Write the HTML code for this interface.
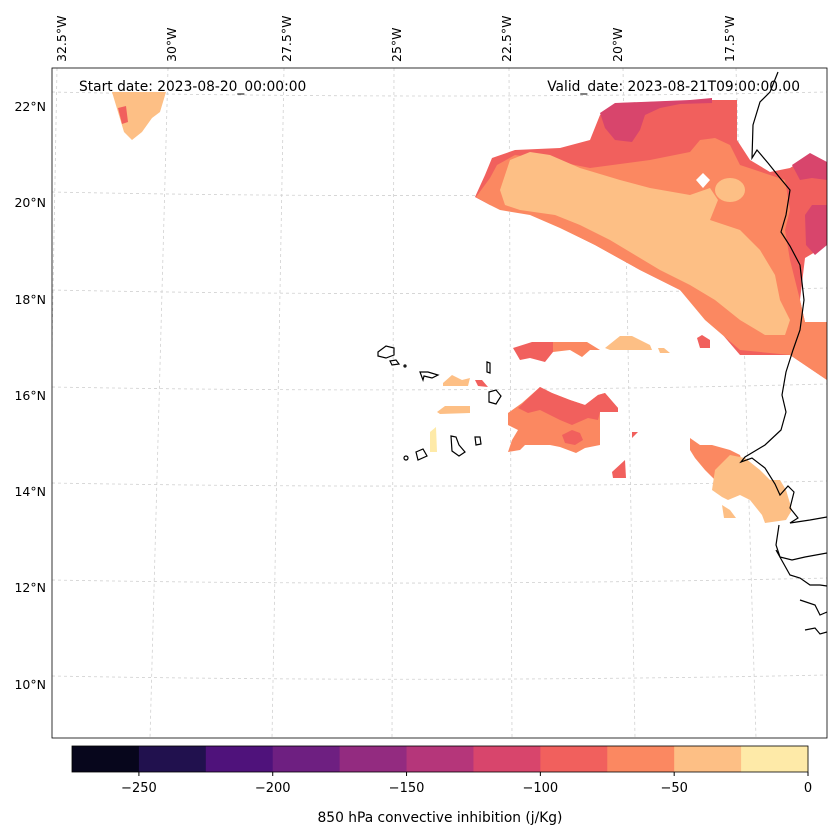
<!DOCTYPE html>
<html><head><meta charset="utf-8">
<style>
html,body{margin:0;padding:0;background:#fff;}
svg{display:block;font-family:"DejaVu Sans","Liberation Sans",sans-serif;}
</style></head>
<body>
<svg id="chart" width="837" height="836" viewBox="0 0 837 836">
<defs><clipPath id="mapclip"><rect x="52" y="68" width="775" height="670"/></clipPath></defs>
<g clip-path="url(#mapclip)">
 <g id="grid" stroke="#d0d0d0" stroke-width="0.8" stroke-dasharray="3,3" fill="none">
  <path d="M57,68 L45,738"/><path d="M168,68 L150,738"/><path d="M284,68 L272,738"/>
  <path d="M394,68 L392,738"/><path d="M509,68 L512,738"/><path d="M623,68 L635,738"/><path d="M736,68 L756,738"/>
  <path d="M52,92 Q440,100 827,92"/><path d="M52,192 Q440,200 827,190"/><path d="M52,290 Q440,298 827,288"/>
  <path d="M52,387 Q440,394 827,384"/><path d="M52,483 Q440,490 827,481"/><path d="M52,580 Q440,587 827,578"/><path d="M52,676 Q440,683 827,675"/>
 </g>
 <g stroke="none">
  <polygon fill="#f1605d" points="475,197 485,175 492,158 515,150 560,148 590,140 600,115 620,103 700,100 737,100 737,140 750,160 770,172 790,168 810,155 827,165 827,245 805,258 800,300 805,322 827,322 827,380 790,355 740,355 710,320 680,290 640,270 595,245 555,225 520,210 490,205"/>
  <polygon fill="#d8456c" points="600,113 615,103 690,100 712,98 712,103 680,104 660,108 645,115 640,130 632,142 615,140 605,128"/>
  <polygon fill="#d8456c" points="792,165 810,153 827,162 827,180 812,178 800,180"/>
  <polygon fill="#d8456c" points="805,215 812,205 827,205 827,245 815,255 806,245"/>
  <polygon fill="#fb8861" points="476,197 490,178 497,165 515,155 550,160 590,168 650,160 690,152 700,140 715,138 730,145 740,165 770,175 785,180 790,210 785,230 790,260 800,300 805,322 827,322 827,380 790,355 740,350 705,320 680,290 640,270 595,245 560,228 530,215 500,210 490,205"/>
  <polygon fill="#fdbf85" points="500,190 510,160 530,152 550,155 580,168 620,180 650,188 690,195 710,188 718,200 710,220 740,230 760,250 775,275 780,300 790,320 785,335 765,335 740,320 715,300 690,285 660,270 640,258 610,240 580,225 555,215 520,210 505,205"/>
  <ellipse fill="#fdbf85" cx="730" cy="190" rx="15" ry="12"/>
  <polygon fill="#fff" points="703,173 710,180 703,188 696,180"/>
  <polygon fill="#fdbf85" points="112,92 166,92 160,112 152,118 142,132 132,140 124,132 118,112"/>
  <polygon fill="#f1605d" points="118,108 126,106 128,122 122,124"/>
  <polygon fill="#f1605d" points="513,348 532,342 553,342 553,352 545,362 530,358 520,360"/>
  <polygon fill="#fb8861" points="553,342 587,342 600,350 590,350 582,357 570,350 553,352"/>
  <polygon fill="#fdbf85" points="605,348 620,336 632,336 650,345 652,350 610,350"/>
  <polygon fill="#fdbf85" points="658,348 664,348 670,353 660,353"/>
  <polygon fill="#f1605d" points="697,338 702,335 710,340 710,348 700,348"/>
  <polygon fill="#fb8861" points="508,413 522,403 540,387 552,393 570,400 585,405 598,395 605,393 618,408 618,412 600,412 600,445 585,448 576,453 560,447 550,445 525,445 520,450 508,452 512,440 518,430 508,425"/>
  <polygon fill="#f1605d" points="518,408 540,387 552,393 570,400 585,405 598,395 605,393 618,408 618,412 600,412 598,420 588,418 572,425 560,420 540,410 528,413"/>
  <polygon fill="#f1605d" points="562,435 572,430 580,433 583,440 575,445 565,443"/>
  <polygon fill="#f1605d" points="612,472 625,460 626,478 613,478"/>
  <polygon fill="#f1605d" points="632,432 638,432 632,438"/>
  <polygon fill="#fdbf85" points="443,383 452,375 462,380 470,378 468,386 443,386"/>
  <polygon fill="#f1605d" points="475,380 482,380 488,387 478,386"/>
  <polygon fill="#fdbf85" points="437,412 445,406 470,406 470,413 440,414"/>
  <polygon fill="#feeaa8" points="430,432 436,427 437,452 430,452"/>
  <polygon fill="#fb8861" points="690,438 700,445 712,445 730,450 740,455 745,470 740,480 725,485 715,480 705,470 695,458 690,450"/>
  <polygon fill="#fdbf85" points="715,470 730,455 745,458 760,470 770,480 780,480 786,490 792,510 786,520 765,523 762,515 750,500 740,495 728,500 722,497 712,490"/>
  <polygon fill="#fdbf85" points="722,505 730,510 736,518 724,518"/>
</g>
 <g fill="none" stroke="#000" stroke-width="1.2">
  <path d="M778,72 L770,92 L760,102 L753,125 L752,158 L757,150 L768,163 L780,178 L790,190 L786,215 L781,232 L790,246 L800,265 L804,300 L800,330 L793,350 L786,372 L782,395 L786,412 L781,430 L765,445 L745,457 L741,462 L752,458 L765,468 L775,484 L780,495 L788,486 L794,492 L790,508 L798,518 L790,523 L810,520 L827,517"/>
  <path d="M827,553 L805,557 L792,560 L780,557 L776,545 L779,525 M776,550 L790,575 L800,578 L810,585 L820,585 L827,586 M800,600 L815,605 L820,615 L827,612 M805,630 L815,628 L820,634 L827,632"/>
  <path d="M378,352 L386,346 L394,348 L394,355 L386,358 L378,356Z"/>
  <path d="M390,361 L396,360 L399,364 L392,365Z"/>
  <circle cx="405" cy="366" r="1"/>
  <path d="M420,372 L428,372 L438,375 L432,378 L424,376 L423,380Z"/>
  <path d="M487,362 L490,363 L490,373 L487,372Z"/>
  <path d="M489,392 L496,390 L501,396 L496,404 L489,402Z"/>
  <path d="M451,436 L456,437 L459,445 L465,452 L459,456 L452,451Z"/>
  <path d="M475,437 L480,437 L481,444 L476,445Z"/>
  <path d="M416,452 L423,449 L427,456 L418,460Z"/>
  <circle cx="406" cy="458" r="2"/>
 </g>
</g>
<rect x="52" y="68" width="775" height="670" fill="none" stroke="#000" stroke-width="0.8"/>
<g font-size="12.5" fill="#000">
 <text transform="translate(66,62) rotate(-90)">32.5°W</text>
 <text transform="translate(176,62) rotate(-90)">30°W</text>
 <text transform="translate(291,62) rotate(-90)">27.5°W</text>
 <text transform="translate(401,62) rotate(-90)">25°W</text>
 <text transform="translate(511,62) rotate(-90)">22.5°W</text>
 <text transform="translate(622,62) rotate(-90)">20°W</text>
 <text transform="translate(734,62) rotate(-90)">17.5°W</text>
</g>
<g font-size="12.5" fill="#000" text-anchor="end">
 <text x="46" y="111">22°N</text>
 <text x="46" y="207">20°N</text>
 <text x="46" y="304">18°N</text>
 <text x="46" y="400">16°N</text>
 <text x="46" y="496">14°N</text>
 <text x="46" y="592">12°N</text>
 <text x="46" y="689">10°N</text>
</g>
<text x="79" y="91" font-size="13.8">Start date: 2023-08-20_00:00:00</text>
<text x="800" y="91" font-size="13.8" text-anchor="end">Valid_date: 2023-08-21T09:00:00.00</text>
<g id="cbar"></g>
<text x="440" y="822" font-size="13.8" text-anchor="middle">850 hPa convective inhibition (j/Kg)</text>
</svg>
<script>
const binEdges = [-275,-250,-225,-200,-175,-150,-125,-100,-75,-50,-25,0];
const binColors = ["#07061c","#21114e","#4f127b","#6e1f81","#932b80","#b5367a","#d8456c","#f1605d","#fb8861","#fdbf85","#feeaa8"];
const tickValues = [-250,-200,-150,-100,-50,0];
const tickLabels = ["\u2212250","\u2212200","\u2212150","\u2212100","\u221250","0"];
const NS="http://www.w3.org/2000/svg";
const cb=document.getElementById('cbar');
const x0=72,x1=808,y0=746,h=26;
function xs(v){return x0+(v-binEdges[0])/(binEdges[binEdges.length-1]-binEdges[0])*(x1-x0);}
for(let i=0;i<binColors.length;i++){
 const r=document.createElementNS(NS,'rect');
 r.setAttribute('x',xs(binEdges[i]));r.setAttribute('y',y0);
 r.setAttribute('width',xs(binEdges[i+1])-xs(binEdges[i])+0.5);r.setAttribute('height',h);
 r.setAttribute('fill',binColors[i]);
 
 
 cb.appendChild(r);
}
const fr=document.createElementNS(NS,'rect');
fr.setAttribute('x',x0);fr.setAttribute('y',y0);fr.setAttribute('width',x1-x0);fr.setAttribute('height',h);
fr.setAttribute('fill','none');fr.setAttribute('stroke','#000');fr.setAttribute('stroke-width','0.8');


cb.appendChild(fr);
tickValues.forEach((v,i)=>{
 const l=document.createElementNS(NS,'line');
 l.setAttribute('x1',xs(v));l.setAttribute('x2',xs(v));l.setAttribute('y1',y0+h);l.setAttribute('y2',y0+h+4);
 l.setAttribute('stroke','#000');
 
 
 cb.appendChild(l);
 const t=document.createElementNS(NS,'text');
 t.setAttribute('x',xs(v));t.setAttribute('y',y0+h+20);t.setAttribute('text-anchor','middle');t.setAttribute('font-size','13');
 t.textContent=tickLabels[i];
 
 
 cb.appendChild(t);
});
</script>
</body></html>
